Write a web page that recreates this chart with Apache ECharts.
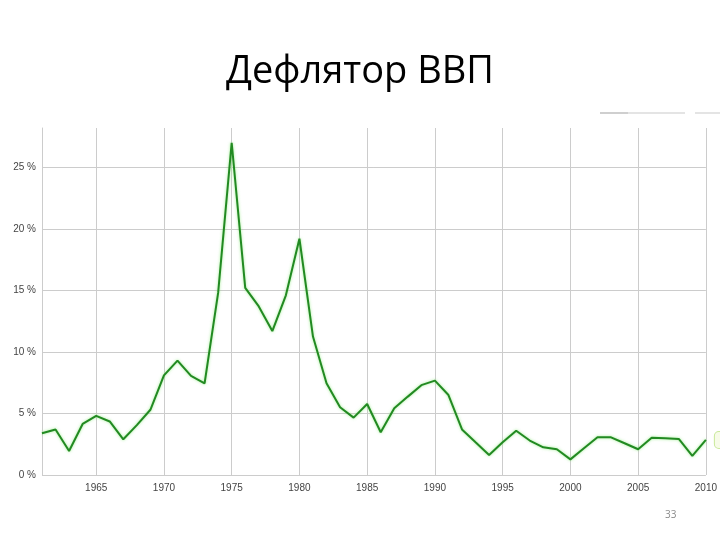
<!DOCTYPE html>
<html>
<head>
<meta charset="utf-8">
<script src="https://cdn.jsdelivr.net/npm/echarts@6/dist/echarts.min.js"></script>
<style>
html,body{margin:0;padding:0;background:#fff;}
#chart{width:720px;height:540px;}
</style>
</head>
<body>
<div id="chart"></div>
<script>
const titleText = 'Дефлятор ВВП';
const pageNumber = '33';
const seriesName = 'США';
const years = [];
for (let y = 1961; y <= 2010; y++) years.push(String(y));
const deflator = [
  3.4, 3.7, 1.95, 4.15, 4.8, 4.35, 2.9, 4.05, 5.3, 8.1,
  9.3, 8.05, 7.45, 14.8, 27.0, 15.2, 13.7, 11.7, 14.6, 19.2,
  11.25, 7.45, 5.5, 4.66, 5.77, 3.47, 5.42, 6.37, 7.3, 7.67,
  6.5, 3.7, 2.66, 1.63, 2.66, 3.6, 2.8, 2.25, 2.09, 1.27,
  2.17, 3.06, 3.06, 2.58, 2.09, 3.03, 2.98, 2.93, 1.55, 2.85
];
const yTicks = [0, 5, 10, 15, 20, 25];

const chart = echarts.init(document.getElementById('chart'), null, {renderer: 'canvas'});
chart.setOption({
  backgroundColor: '#fff',
  animation: false,
  title: {
    text: titleText,
    left: 'center',
    top: 48,
    textStyle: {fontFamily: 'Open Sans', fontWeight: 'normal', fontSize: 38, color: '#000'}
  },
  graphic: [
    {type: 'line', shape: {x1: 600, y1: 113, x2: 685, y2: 113}, style: {stroke: '#e4e4e4', lineWidth: 2}},
    {type: 'line', shape: {x1: 600, y1: 113, x2: 628, y2: 113}, style: {stroke: '#cfcfcf', lineWidth: 2}},
    {type: 'line', shape: {x1: 695, y1: 113, x2: 720, y2: 113}, style: {stroke: '#e4e4e4', lineWidth: 2}},
    {type: 'text', left: 665, top: 510, style: {text: pageNumber, fontFamily: 'Open Sans', fontSize: 10, fill: '#8a8a8a'}}
  ],
  grid: {left: 42, right: 13, top: 128, bottom: 65, containLabel: false},
  xAxis: {
    type: 'category',
    data: years,
    boundaryGap: false,
    axisLine: {show: false},
    axisTick: {show: false},
    axisLabel: {
      interval: (i, v) => Number(v) % 5 === 0,
      fontFamily: 'Liberation Sans', fontSize: 10, color: '#444', margin: 8
    },
    splitLine: {
      show: true,
      interval: (i, v) => Number(v) % 5 === 0 || i === years.length - 1,
      lineStyle: {color: '#cccccc', width: 1}
    }
  },
  yAxis: {
    type: 'value',
    min: 0,
    max: 28.2,
    interval: 5,
    axisLine: {show: true, lineStyle: {color: '#cccccc'}},
    axisTick: {show: false},
    axisLabel: {
      formatter: v => yTicks.includes(v) ? v + ' %' : '',
      fontFamily: 'Liberation Sans', fontSize: 10, color: '#444', margin: 6
    },
    splitLine: {show: true, showMaxLine: false, lineStyle: {color: '#cccccc', width: 1}}
  },
  series: [{
    name: seriesName,
    type: 'line',
    data: deflator,
    symbol: 'none',
    lineStyle: {color: '#228a22', width: 2, shadowColor: 'rgba(120,230,100,0.7)', shadowBlur: 3},
    endLabel: {
      show: true,
      formatter: seriesName,
      distance: 9,
      fontSize: 10,
      color: '#555',
      backgroundColor: '#f7fbe8',
      borderColor: '#c9e89a',
      borderWidth: 1,
      borderRadius: 4,
      padding: [3, 5]
    }
  }]
});
</script>
</body>
</html>
